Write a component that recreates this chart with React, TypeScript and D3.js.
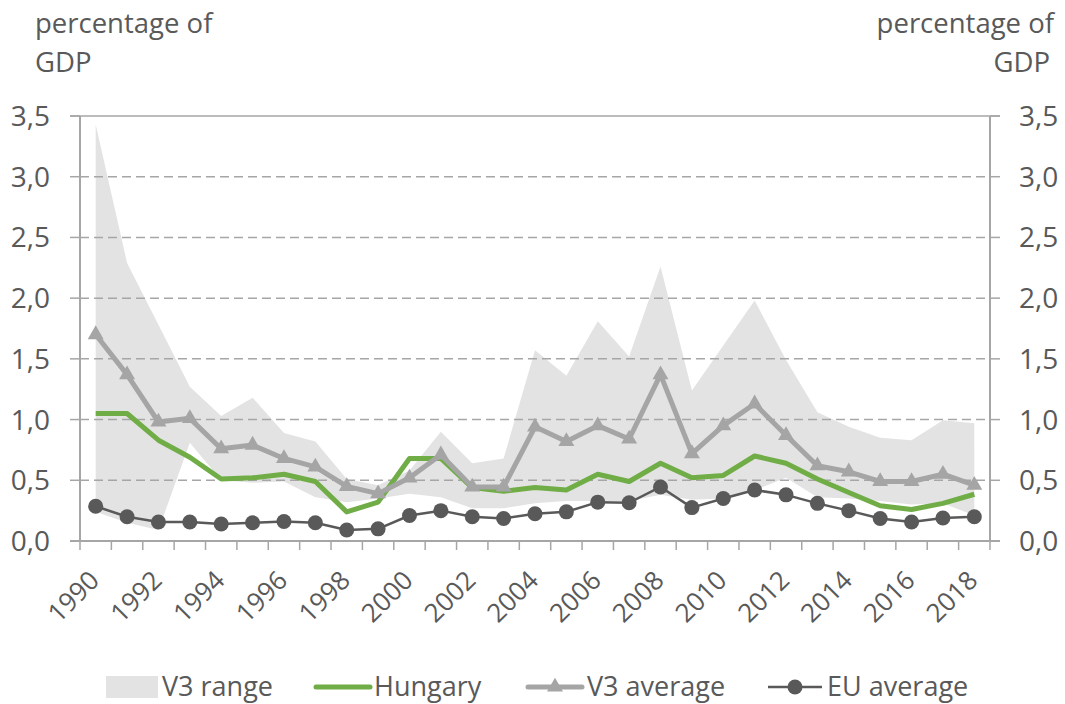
import React from "react";
import * as d3 from "d3";

const years = [
  "1990","1991","1992","1993","1994","1995","1996","1997","1998","1999",
  "2000","2001","2002","2003","2004","2005","2006","2007","2008","2009",
  "2010","2011","2012","2013","2014","2015","2016","2017","2018",
];
const rangeHigh = [
  3.43, 2.29, 1.78, 1.27, 1.03, 1.18, 0.89, 0.82, 0.51, 0.46,
  0.58, 0.9, 0.64, 0.68, 1.57, 1.36, 1.81, 1.52, 2.26, 1.24,
  1.61, 1.98, 1.49, 1.06, 0.94, 0.85, 0.83, 0.995, 0.97,
];
const rangeLow = [
  0.24, 0.15, 0.09, 0.81, 0.5, 0.48, 0.49, 0.36, 0.32, 0.35,
  0.39, 0.36, 0.27, 0.27, 0.31, 0.33, 0.33, 0.33, 0.38, 0.34,
  0.35, 0.42, 0.52, 0.36, 0.35, 0.33, 0.3, 0.31, 0.21,
];
const hungary = [
  1.05, 1.05, 0.83, 0.69, 0.51, 0.52, 0.55, 0.49, 0.24, 0.32,
  0.68, 0.68, 0.44, 0.41, 0.44, 0.42, 0.55, 0.49, 0.64, 0.52,
  0.54, 0.7, 0.64, 0.51, 0.4, 0.29, 0.26, 0.31, 0.385,
];
const v3Average = [
  1.7, 1.37, 0.98, 1.01, 0.76, 0.79, 0.68, 0.61, 0.45, 0.39,
  0.52, 0.71, 0.445, 0.445, 0.94, 0.82, 0.95, 0.84, 1.37, 0.72,
  0.95, 1.13, 0.87, 0.62, 0.57, 0.49, 0.49, 0.55, 0.46,
];
const euAverage = [
  0.286, 0.2, 0.157, 0.157, 0.14, 0.15, 0.16, 0.15, 0.09, 0.1,
  0.21, 0.25, 0.2, 0.185, 0.225, 0.24, 0.32, 0.315, 0.445, 0.275,
  0.35, 0.42, 0.38, 0.31, 0.25, 0.185, 0.157, 0.19, 0.2,
];
const yTicks = [0, 0.5, 1, 1.5, 2, 2.5, 3, 3.5];
const legendLabels = ["V3 range", "Hungary", "V3 average", "EU average"];

const W = 1065;
const H = 704;
const L = 80;
const R = 990;
const T = 116;
const B = 541;
const FONT = "'Open Sans', sans-serif";
const TEXT = "#595959";
const GRID = "#a6a6a6";
const RANGE_FILL = "#e3e3e3";
const GREEN = "#70ad47";
const V3C = "#a5a5a5";
const EUC = "#595959";

export default function App() {
  const xb = d3.scaleBand<string>().domain(years).range([L, R]).padding(0);
  const cx = (i: number) => (xb(years[i]) as number) + xb.bandwidth() / 2;
  const y = d3.scaleLinear().domain([0, 3.5]).range([B, T]);
  const fmt = (v: number) => d3.format(".1f")(v).replace(".", ",");

  const area = d3
    .area<number>()
    .x((_, i) => cx(i))
    .y0((_, i) => y(rangeLow[i]))
    .y1((d) => y(d));
  const line = d3
    .line<number>()
    .x((_, i) => cx(i))
    .y((d) => y(d));

  const tri = d3.symbol().type(d3.symbolTriangle).size(110)() as string;

  return (
    <svg
      width={W}
      height={H}
      style={{ position: "absolute", left: 0, top: 0, background: "#fff" }}
      fontFamily={FONT}
    >
      {/* range area */}
      <path d={area(rangeHigh) as string} fill={RANGE_FILL} />

      {/* gridlines */}
      {yTicks.filter((t) => t > 0 && t < 3.5).map((t) => (
        <line
          key={t}
          x1={L}
          x2={R}
          y1={y(t)}
          y2={y(t)}
          stroke={GRID}
          strokeWidth={1.5}
          strokeDasharray="9,5"
        />
      ))}
      <line x1={L - 10} x2={R + 10} y1={y(3.5)} y2={y(3.5)} stroke={GRID} strokeWidth={1.5} />

      {/* axes */}
      <line x1={L} x2={L} y1={T} y2={B} stroke={GRID} strokeWidth={2} />
      <line x1={R} x2={R} y1={T} y2={B} stroke={GRID} strokeWidth={2} />
      <line x1={L - 10} x2={R + 10} y1={B} y2={B} stroke={GRID} strokeWidth={2} />
      {yTicks.map((t) => (
        <g key={"yt" + t}>
          <line x1={L - 10} x2={L} y1={y(t)} y2={y(t)} stroke={GRID} strokeWidth={1.5} />
          <line x1={R} x2={R + 10} y1={y(t)} y2={y(t)} stroke={GRID} strokeWidth={1.5} />
          <text x={50} y={y(t) + 10} textAnchor="end" fontSize={28} fill={TEXT}>
            {fmt(t)}
          </text>
          <text x={1019} y={y(t) + 10} textAnchor="start" fontSize={28} fill={TEXT}>
            {fmt(t)}
          </text>
        </g>
      ))}
      {d3.range(years.length + 1).map((i) => {
        const xx = L + i * xb.bandwidth();
        return <line key={"xt" + i} x1={xx} x2={xx} y1={B} y2={B + 9} stroke={GRID} strokeWidth={1.5} />;
      })}
      {years.map((yr, i) =>
        i % 2 === 0 ? (
          <text
            key={yr}
            transform={`translate(${cx(i) + 5},${582}) rotate(-45)`}
            textAnchor="end"
            fontSize={26}
            fill={TEXT}
          >
            {yr}
          </text>
        ) : null
      )}

      {/* series */}
      <path d={line(hungary) as string} fill="none" stroke={GREEN} strokeWidth={5} strokeLinejoin="round" />
      <path d={line(v3Average) as string} fill="none" stroke={V3C} strokeWidth={5} strokeLinejoin="round" />
      {v3Average.map((v, i) => (
        <path key={"tr" + i} d={tri} transform={`translate(${cx(i)},${y(v)})`} fill={V3C} />
      ))}
      <path d={line(euAverage) as string} fill="none" stroke={EUC} strokeWidth={2.5} strokeLinejoin="round" />
      {euAverage.map((v, i) => (
        <circle key={"eu" + i} cx={cx(i)} cy={y(v)} r={7.5} fill={EUC} />
      ))}

      {/* axis titles */}
      <text x={35} y={33} fontSize={27.5} fill={TEXT}>percentage of</text>
      <text x={35} y={72} fontSize={27.5} fill={TEXT}>GDP</text>
      <text x={1054} y={33} fontSize={27.5} fill={TEXT} textAnchor="end">percentage of</text>
      <text x={1050} y={72} fontSize={27.5} fill={TEXT} textAnchor="end">GDP</text>

      {/* legend */}
      <rect x={106} y={676} width={52} height={22} fill={RANGE_FILL} />
      <text x={162} y={696} fontSize={27} fill={TEXT}>{legendLabels[0]}</text>
      <line x1={316} x2={370} y1={687} y2={687} stroke={GREEN} strokeWidth={5} strokeLinecap="round" />
      <text x={374} y={696} fontSize={27} fill={TEXT}>{legendLabels[1]}</text>
      <line x1={528} x2={582} y1={687} y2={687} stroke={V3C} strokeWidth={5} strokeLinecap="round" />
      <path d={tri} transform="translate(555,687)" fill={V3C} />
      <text x={587} y={696} fontSize={27} fill={TEXT}>{legendLabels[2]}</text>
      <line x1={768} x2={822} y1={687} y2={687} stroke={EUC} strokeWidth={2.5} />
      <circle cx={795} cy={687} r={7.5} fill={EUC} />
      <text x={827} y={696} fontSize={27} fill={TEXT}>{legendLabels[3]}</text>
    </svg>
  );
}
